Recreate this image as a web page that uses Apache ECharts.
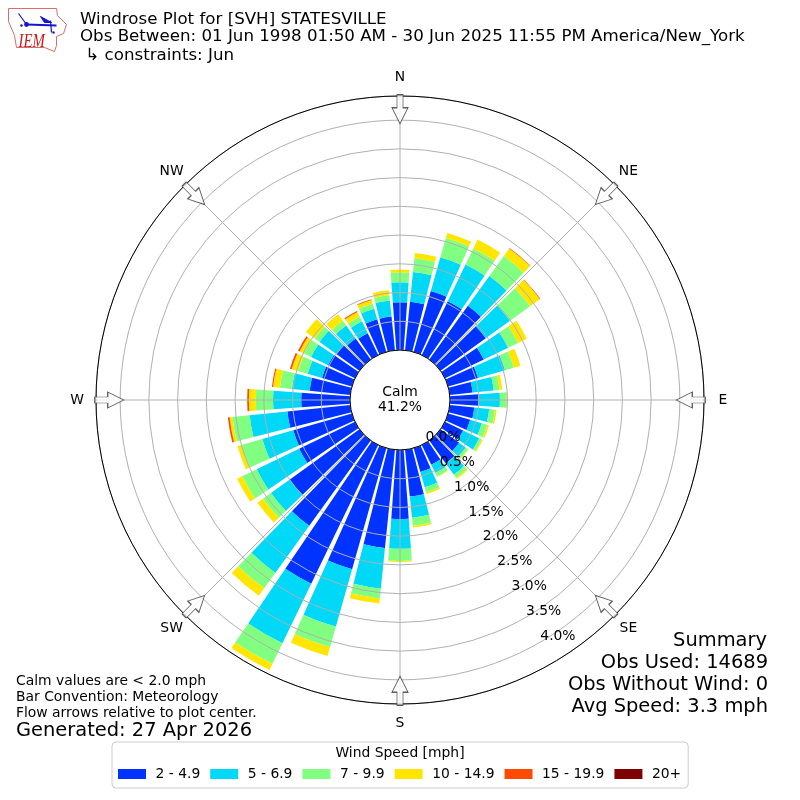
<!DOCTYPE html>
<html><head><meta charset="utf-8">
<style>html,body{margin:0;padding:0;background:#fff}#c{width:800px;height:800px}</style>
<script src="https://cdn.jsdelivr.net/npm/echarts@6/dist/echarts.min.js"></script>
</head><body><div id="c"></div>
<script>
const directions=[0,10,20,30,40,50,60,70,80,90,100,110,120,130,140,150,160,170,180,190,200,210,220,230,240,250,260,270,280,290,300,310,320,330,340,350];
const speed2to5=[.83,.85,1.10,1.04,1.15,.97,.75,.54,.40,.50,.43,.40,.35,.40,.49,.38,.43,.82,1.20,1.72,2.19,2.68,1.83,1.50,1.08,1.06,1.10,.85,.71,.54,.52,.49,.45,.42,.59,.59];
const speed5to7=[.35,.52,.61,.71,.64,.52,.47,.49,.37,.37,.26,.21,.31,.14,.24,.16,.28,.37,.52,.71,1.04,1.15,1.01,.40,.82,.56,.66,.49,.31,.26,.33,.37,.28,.23,.19,.28];
const speed7to10=[.17,.24,.35,.31,.43,.43,.19,.16,.10,.12,.10,.10,.05,.05,.07,.07,.09,.14,.21,.17,.37,.40,.33,.17,.28,.38,.30,.30,.21,.17,.14,.10,.10,.09,.09,.09];
const speed10to15=[.05,.09,.09,.17,.16,.21,.17,.12,.05,.01,.03,.03,.02,.01,.02,.01,.03,.03,.02,.09,.16,.12,.16,.12,.10,.07,.05,.12,.12,.12,.08,.19,.14,.09,.07,.09];
const speed15to20=[0,0,0,0,.01,.01,0,0,0,0,0,0,0,0,0,0,0,0,0,0,0,0,0,0,0,0,.03,.03,.02,.03,.03,0,0,.02,.01,0];
const speed20up=[0,0,0,0,0,0,0,0,0,0,0,0,0,0,0,0,0,0,0,0,0,0,0,0,0,0,0,0,0,0,0,0,0,0,0,0];
const speedBins=['2 - 4.9','5 - 6.9','7 - 9.9','10 - 14.9','15 - 19.9','20+'];
const speedColors=['#0033ff','#00d8f8','#80ff80','#ffe600','#ff4a00','#7f0000'];
const speedSeries=[speed2to5,speed5to7,speed7to10,speed10to15,speed15to20,speed20up];
const compass=['N','NE','E','SE','S','SW','W','NW'];
const compassAngles=[0,45,90,135,180,225,270,315];
const ringValues=[0,.5,1,1.5,2,2.5,3,3.5,4];
const ringLabels=['0.0%','0.5%','1.0%','1.5%','2.0%','2.5%','3.0%','3.5%','4.0%'];
const FONT='DejaVu Sans';
const RMAX=4.42, LABEL_BEARING=150, ARROW_R=4.19, COMPASS_R=4.75;
const S_TITLE=16.67,S_TEXT=13.89,S_BIG=19.44;

function txt(text,left,top,size,extra){
  return Object.assign({text,left,top,padding:0,itemGap:0,textStyle:{fontFamily:FONT,fontSize:size,fontWeight:'normal',color:'#000',lineHeight:size+1}},extra||{});
}
const chart=echarts.init(document.getElementById('c'),null,{renderer:'canvas'});
const bars=speedBins.map((n,i)=>({
  name:n,type:'bar',coordinateSystem:'polar',polarIndex:0,stack:'w',barWidth:'84%',
  itemStyle:{color:speedColors[i]},data:speedSeries[i].map(v=>v>0?v:null),z:2,silent:true
}));
const plainLabel={show:true,position:'inside',fontFamily:FONT,fontSize:S_TEXT,color:'#000',textBorderWidth:0,textBorderColor:'transparent',opacity:1};
chart.setOption({
  animation:false,backgroundColor:'#fff',
  title:[
    txt('Windrose Plot for [SVH] STATESVILLE',80,11,S_TITLE),
    txt('Obs Between: 01 Jun 1998 01:50 AM - 30 Jun 2025 11:55 PM America/New_York',80,28,S_TITLE),
    txt(' \u21b3 constraints: Jun',80,47,S_TITLE),
    txt('Calm',400,385,S_TEXT,{textAlign:'center'}),
    txt('41.2%',400,400,S_TEXT,{textAlign:'center'}),
    txt('Calm values are < 2.0 mph',16,674,S_TEXT),
    txt('Bar Convention: Meteorology',16,690,S_TEXT),
    txt('Flow arrows relative to plot center.',16,706,S_TEXT),
    txt('Generated: 27 Apr 2026',16,721,S_BIG),
    txt('Summary',767,631,S_BIG,{textAlign:'right'}),
    txt('Obs Used: 14689',768,653,S_BIG,{textAlign:'right'}),
    txt('Obs Without Wind: 0',768,675,S_BIG,{textAlign:'right'}),
    txt('Avg Speed: 3.3 mph',768,697,S_BIG,{textAlign:'right'}),
    txt('Wind Speed [mph]',400,746,S_TEXT,{textAlign:'center'})
  ],
  polar:[{center:[400,400],radius:[50,304]},{center:[400,400],radius:[50,304]}],
  angleAxis:[
    {polarIndex:0,type:'category',data:directions,startAngle:95,clockwise:true,show:false},
    {polarIndex:1,type:'value',min:0,max:360,interval:45,startAngle:90,clockwise:true,z:5,
     axisLine:{show:true,lineStyle:{color:'#000',width:1}},axisTick:{show:false},axisLabel:{show:false},
     splitLine:{show:true,lineStyle:{color:'#b0b0b0',width:1}}}
  ],
  radiusAxis:[
    {polarIndex:0,type:'value',min:0,max:RMAX,show:false},
    {polarIndex:1,type:'value',min:0,max:RMAX,interval:.5,z:5,
     axisLine:{show:false},axisTick:{show:false},axisLabel:{show:false},
     splitLine:{show:true,lineStyle:{color:'#b0b0b0',width:1,type:'solid'}}}
  ],
  legend:{left:112,top:742,orient:'horizontal',padding:[25,7,7,6],itemGap:10,itemWidth:28,itemHeight:10,
    icon:'rect',data:speedBins,borderColor:'#cccccc',borderWidth:1,borderRadius:4,selectedMode:false,
    textStyle:{fontFamily:FONT,fontSize:S_TEXT,color:'#000',padding:[0,0,0,4.5]}},
  series:bars.concat([
    {name:'arrows',type:'scatter',coordinateSystem:'polar',polarIndex:1,z:6,silent:true,clip:false,
     symbol:'path://M8,0 L16,16 L11,16 L11,29 L5,29 L5,16 L0,16 Z',symbolSize:[16,29],
     itemStyle:{color:'#fff',borderColor:'#333',borderWidth:1},
     data:compassAngles.map(a=>({value:[ARROW_R,a],symbolRotate:180-a}))},
    {name:'ringLabels',type:'scatter',coordinateSystem:'polar',polarIndex:1,z:7,silent:true,clip:false,symbolSize:1,
     itemStyle:{color:'transparent'},
     label:Object.assign({offset:[18,-6],formatter:p=>ringLabels[p.dataIndex]},plainLabel),
     data:ringValues.map(v=>[v,LABEL_BEARING])},
    {name:'compassLabels',type:'scatter',coordinateSystem:'polar',polarIndex:1,z:7,silent:true,clip:false,symbolSize:1,
     itemStyle:{color:'transparent'},
     label:Object.assign({formatter:p=>compass[p.dataIndex]},plainLabel),
     data:compassAngles.map(a=>[COMPASS_R,a])}
  ]),
  graphic:[{type:'group',left:6,top:6,silent:true,children:[
    {type:'polyline',shape:{points:[[1,1],[49,1],[50,8],[59,17],[56,26],[49,29],[49,38],[47,44],[37,40],[9,40],[7,28],[1,14],[1,1]]},style:{fill:'none',stroke:'#e06a6a',lineWidth:1}},
    {type:'line',shape:{x1:19,y1:17,x2:49,y2:18},style:{stroke:'#1414d2',lineWidth:1.8}},
    {type:'line',shape:{x1:19,y1:17,x2:11,y2:6},style:{stroke:'#1414d2',lineWidth:1.2}},
    {type:'line',shape:{x1:43,y1:13,x2:44,y2:25},style:{stroke:'#1414d2',lineWidth:1.2}},
    {type:'polyline',shape:{points:[[33,9],[44,15],[37,15],[33,9]]},style:{fill:'#1414d2',stroke:'#1414d2',lineWidth:1}},
    {type:'circle',shape:{cx:19,cy:17,r:2.4},style:{fill:'#1414d2'}},
    {type:'circle',shape:{cx:14,cy:18,r:1.2},style:{fill:'#1414d2'}},
    {type:'circle',shape:{cx:46,cy:25,r:1.2},style:{fill:'#1414d2'}},
    {type:'text',x:11,y:25,scaleX:.78,style:{text:'IEM',x:0,y:0,font:'italic 19px "Liberation Serif"',fill:'#d01818'}}
  ]}]
});
</script></body></html>
